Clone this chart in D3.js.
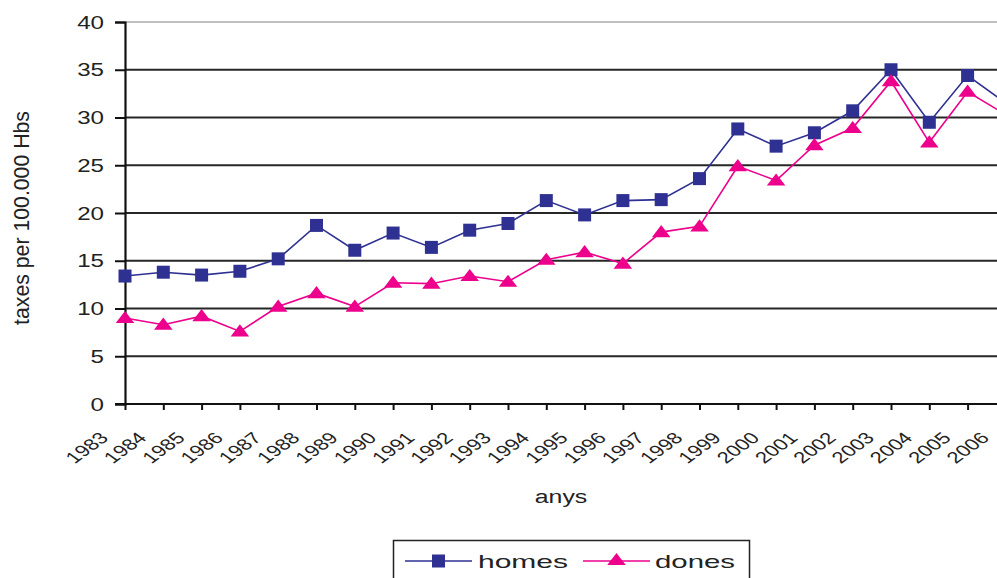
<!DOCTYPE html>
<html>
<head>
<meta charset="utf-8">
<script src="https://cdn.jsdelivr.net/npm/d3@7"></script>
<style>
  html, body { margin: 0; padding: 0; background: #fff; }
  svg { display: block; }
  text { font-family: "Liberation Sans", Arial, sans-serif; fill: #222; }
</style>
</head>
<body>
<svg id="chart" width="997" height="578"></svg>
<script>
// Rates per 100,000 inhabitants, by year
const years = ["1983","1984","1985","1986","1987","1988","1989","1990","1991","1992","1993","1994",
               "1995","1996","1997","1998","1999","2000","2001","2002","2003","2004","2005","2006"];
const homes = [13.4,13.8,13.5,13.9,15.2,18.7,16.1,17.9,16.4,18.2,18.9,21.3,
               19.8,21.3,21.4,23.6,28.8,27.0,28.4,30.7,35.0,29.5,34.4,31.5];
const dones = [9.0,8.3,9.2,7.6,10.2,11.6,10.2,12.7,12.6,13.4,12.8,15.1,
               15.9,14.7,18.0,18.6,24.9,23.4,27.1,28.9,33.8,27.4,32.7,30.3];
const yTicks = [0,5,10,15,20,25,30,35,40];
const seriesNames = ["homes","dones"];

const W = 997, H = 578;
const svg = d3.select("#chart");

const x = d3.scalePoint().domain(years).range([125, 125 + 23 * 38.3]);
const y = d3.scaleLinear().domain([0, 40]).range([404, 22]);

const colors = { homes: "#2e3192", dones: "#ec008c" };
const SX = 1.38; // horizontal stretch of the lettering

// horizontal gridlines
svg.append("g").selectAll("line")
  .data(yTicks.filter(v => v > 0))
  .join("line")
  .attr("x1", 125).attr("x2", W)
  .attr("y1", d => y(d)).attr("y2", d => y(d))
  .attr("stroke", d => d === 40 ? "#aaa" : "#262626")
  .attr("stroke-width", d => d === 40 ? 1.3 : 2);

// y axis
const yAxis = svg.append("g").attr("transform", "translate(125,0)")
  .call(d3.axisLeft(y).tickValues(yTicks).tickSize(10).tickPadding(0).tickFormat(d3.format("d")));
yAxis.select(".domain").attr("stroke", "#111").attr("stroke-width", 2.2);
yAxis.selectAll(".tick line").attr("stroke", "#111").attr("stroke-width", 2);
yAxis.selectAll(".tick text").remove();
yAxis.selectAll(".tick").append("text")
  .attr("transform", `translate(-21,6) scale(${SX},1)`)
  .attr("text-anchor", "end")
  .attr("font-size", 17.5)
  .text(d => d);

// x axis
const xAxis = svg.append("g").attr("transform", "translate(0,404)")
  .call(d3.axisBottom(x).tickSize(6).tickSizeOuter(0));
xAxis.select(".domain").attr("stroke", "#111").attr("stroke-width", 2.2)
  .attr("d", `M115,0H${W}`);
xAxis.selectAll(".tick line").attr("stroke", "#111").attr("stroke-width", 2);
xAxis.selectAll(".tick text").remove();
xAxis.selectAll(".tick").append("text")
  .attr("transform", `translate(-16,35) scale(${SX},1) rotate(-45)`)
  .attr("text-anchor", "end")
  .attr("font-size", 16)
  .text(d => d);

// axis titles
svg.append("text")
  .attr("transform", `translate(29,218) scale(1.25,1) rotate(-90)`)
  .attr("text-anchor", "middle")
  .attr("font-size", 18)
  .attr("textLength", 214)
  .attr("lengthAdjust", "spacingAndGlyphs")
  .text("taxes per 100.000 Hbs");

svg.append("text")
  .attr("transform", `translate(561,503) scale(${SX},1)`)
  .attr("text-anchor", "middle")
  .attr("font-size", 18)
  .text("anys");

// series lines and markers
const line = d3.line().x((d, i) => x(years[i])).y(d => y(d));
const data = { homes, dones };

seriesNames.forEach(name => {
  svg.append("path")
    .datum(data[name])
    .attr("fill", "none")
    .attr("stroke", colors[name])
    .attr("stroke-width", 1.6)
    .attr("d", line);
});

const sq = 13;
svg.append("g").selectAll("rect")
  .data(homes)
  .join("rect")
  .attr("x", (d, i) => x(years[i]) - sq / 2)
  .attr("y", d => y(d) - sq / 2)
  .attr("width", sq).attr("height", sq)
  .attr("fill", colors.homes);

const tri = d3.symbol().type(d3.symbolTriangle).size(95);
svg.append("g").selectAll("path")
  .data(dones)
  .join("path")
  .attr("transform", (d, i) => `translate(${x(years[i])},${y(d) + 1}) scale(1.25,0.95)`)
  .attr("d", tri)
  .attr("fill", colors.dones);

// legend
const lg = svg.append("g");
lg.append("rect")
  .attr("x", 393.5).attr("y", 540.5).attr("width", 356).attr("height", 60)
  .attr("fill", "#fff").attr("stroke", "#222").attr("stroke-width", 1.5);

const legendItems = [
  { name: "homes", x0: 405, x1: 472, tx: 478, tl: 90 },
  { name: "dones", x0: 583, x1: 650, tx: 655, tl: 80 }
];
legendItems.forEach(it => {
  const cy = 561;
  lg.append("line")
    .attr("x1", it.x0).attr("x2", it.x1).attr("y1", cy).attr("y2", cy)
    .attr("stroke", colors[it.name]).attr("stroke-width", 1.6);
  const cx = (it.x0 + it.x1) / 2;
  if (it.name === "homes") {
    lg.append("rect").attr("x", cx - 6.5).attr("y", cy - 6.5).attr("width", 13).attr("height", 13)
      .attr("fill", colors.homes);
  } else {
    lg.append("path").attr("transform", `translate(${cx},${cy}) scale(1.25,0.95)`)
      .attr("d", tri).attr("fill", colors.dones);
  }
  lg.append("text")
    .attr("x", it.tx).attr("y", cy + 7)
    .attr("font-size", 19)
    .attr("textLength", it.tl)
    .attr("lengthAdjust", "spacingAndGlyphs")
    .text(it.name);
});
</script>
</body>
</html>
